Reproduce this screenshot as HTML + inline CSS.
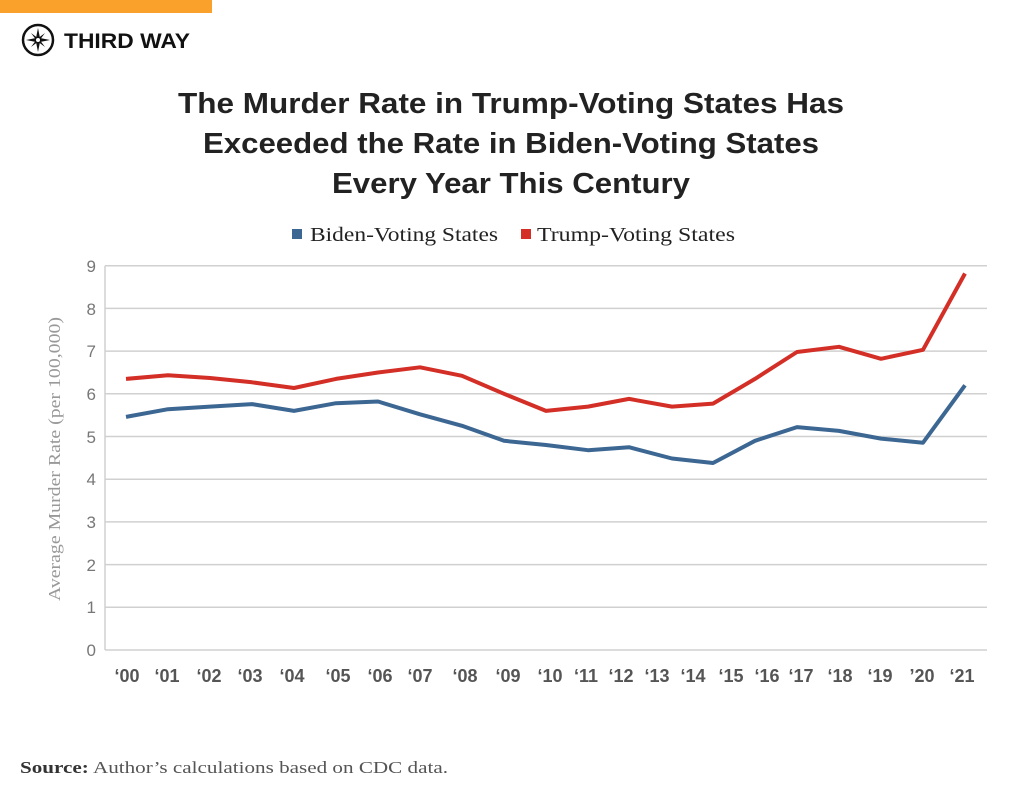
<!DOCTYPE html>
<html><head><meta charset="utf-8"><style>
body{margin:0;width:1024px;height:791px;background:#fff;overflow:hidden;position:relative;font-family:"Liberation Sans",sans-serif}
</style></head><body>
<div style="position:absolute;left:0;top:0;width:212px;height:13px;background:#f9a12a"></div>
<svg width="1024" height="791" style="position:absolute;left:0;top:0">
<g transform="translate(38,40)">
<circle r="15" fill="none" stroke="#111" stroke-width="2.5"/>
<path d="M0,-12 L2,-2 L12,0 L2,2 L0,12 L-2,2 L-12,0 L-2,-2Z" fill="#111"/>
<path d="M-7,-7 L1,-1 L7,7 L-1,1Z M7,-7 L1,1 L-7,7 L-1,-1Z" fill="#111"/>
<circle r="2" fill="#fff"/>
</g>
<text x="64" y="48" font-size="21" font-weight="bold" fill="#111" textLength="126" lengthAdjust="spacingAndGlyphs">THIRD WAY</text>
<g font-size="29" font-weight="bold" fill="#222" text-anchor="middle">
<text x="511" y="113" textLength="666" lengthAdjust="spacingAndGlyphs">The Murder Rate in Trump-Voting States Has</text>
<text x="511" y="153" textLength="616" lengthAdjust="spacingAndGlyphs">Exceeded the Rate in Biden-Voting States</text>
<text x="511" y="193" textLength="358" lengthAdjust="spacingAndGlyphs">Every Year This Century</text>
</g>
<g font-family="Liberation Serif,serif" font-size="20" fill="#222">
<rect x="292" y="229" width="10" height="10" fill="#3d6793"/>
<text x="310" y="241" textLength="188" lengthAdjust="spacingAndGlyphs">Biden-Voting States</text>
<rect x="521" y="229" width="10" height="10" fill="#d32f27"/>
<text x="537" y="241" textLength="198" lengthAdjust="spacingAndGlyphs">Trump-Voting States</text>
</g>
<g stroke="#d0d0d0" stroke-width="1.5">
<line x1="105" x2="987" y1="265.7" y2="265.7"/><line x1="105" x2="987" y1="308.4" y2="308.4"/>
<line x1="105" x2="987" y1="351.1" y2="351.1"/><line x1="105" x2="987" y1="393.8" y2="393.8"/>
<line x1="105" x2="987" y1="436.5" y2="436.5"/><line x1="105" x2="987" y1="479.2" y2="479.2"/>
<line x1="105" x2="987" y1="521.9" y2="521.9"/><line x1="105" x2="987" y1="564.6" y2="564.6"/>
<line x1="105" x2="987" y1="607.3" y2="607.3"/><line x1="105" x2="987" y1="650" y2="650"/>
<line x1="105" x2="105" y1="265.7" y2="650"/>
</g>
<g font-size="17" fill="#777" text-anchor="end">
<text x="96" y="272">9</text><text x="96" y="315">8</text><text x="96" y="357">7</text>
<text x="96" y="400">6</text><text x="96" y="443">5</text><text x="96" y="485">4</text>
<text x="96" y="528">3</text><text x="96" y="571">2</text><text x="96" y="613">1</text><text x="96" y="656">0</text>
</g>
<text transform="translate(60,459) rotate(-90)" text-anchor="middle" font-family="Liberation Serif,serif" font-size="17" fill="#999" textLength="284" lengthAdjust="spacingAndGlyphs">Average Murder Rate (per 100,000)</text>
<g font-size="18" font-weight="bold" fill="#555" text-anchor="middle">
<text x="127" y="682">‘00</text><text x="167" y="682">‘01</text><text x="209" y="682">‘02</text><text x="250" y="682">‘03</text><text x="292" y="682">‘04</text><text x="338" y="682">‘05</text><text x="380" y="682">‘06</text><text x="420" y="682">‘07</text><text x="465" y="682">‘08</text><text x="508" y="682">‘09</text><text x="550" y="682">‘10</text><text x="586" y="682">‘11</text><text x="621" y="682">‘12</text><text x="657" y="682">‘13</text><text x="693" y="682">‘14</text><text x="731" y="682">‘15</text><text x="767" y="682">‘16</text><text x="801" y="682">‘17</text><text x="840" y="682">‘18</text><text x="880" y="682">‘19</text><text x="922" y="682">’20</text><text x="962" y="682">‘21</text>
</g>
<polyline fill="none" stroke="#d32f27" stroke-width="4" stroke-linejoin="round" points="126,378.9 168,375.2 210,378.0 252,382.3 294,388.0 336,378.9 378,372.5 420,367.3 462,375.8 504,393.8 546,410.9 588,406.6 629,398.9 672,406.6 713,403.6 755,378.9 797,352.0 839,346.8 881,358.8 923,349.8 965,273.5"/>
<polyline fill="none" stroke="#3d6793" stroke-width="4" stroke-linejoin="round" points="126,416.9 168,409.2 210,406.6 252,404.1 294,410.9 336,403.2 378,401.5 420,414.3 462,425.8 504,440.8 546,445.0 588,450.2 629,447.2 672,458.5 713,463.0 755,440.8 797,427.1 839,430.9 881,438.6 923,442.7 965,385.3"/>
<text x="20" y="773" font-family="Liberation Serif,serif" font-size="17" fill="#555" textLength="428" lengthAdjust="spacingAndGlyphs"><tspan font-weight="bold" fill="#333">Source:</tspan> Author’s calculations based on CDC data.</text>
</svg>
</body></html>
